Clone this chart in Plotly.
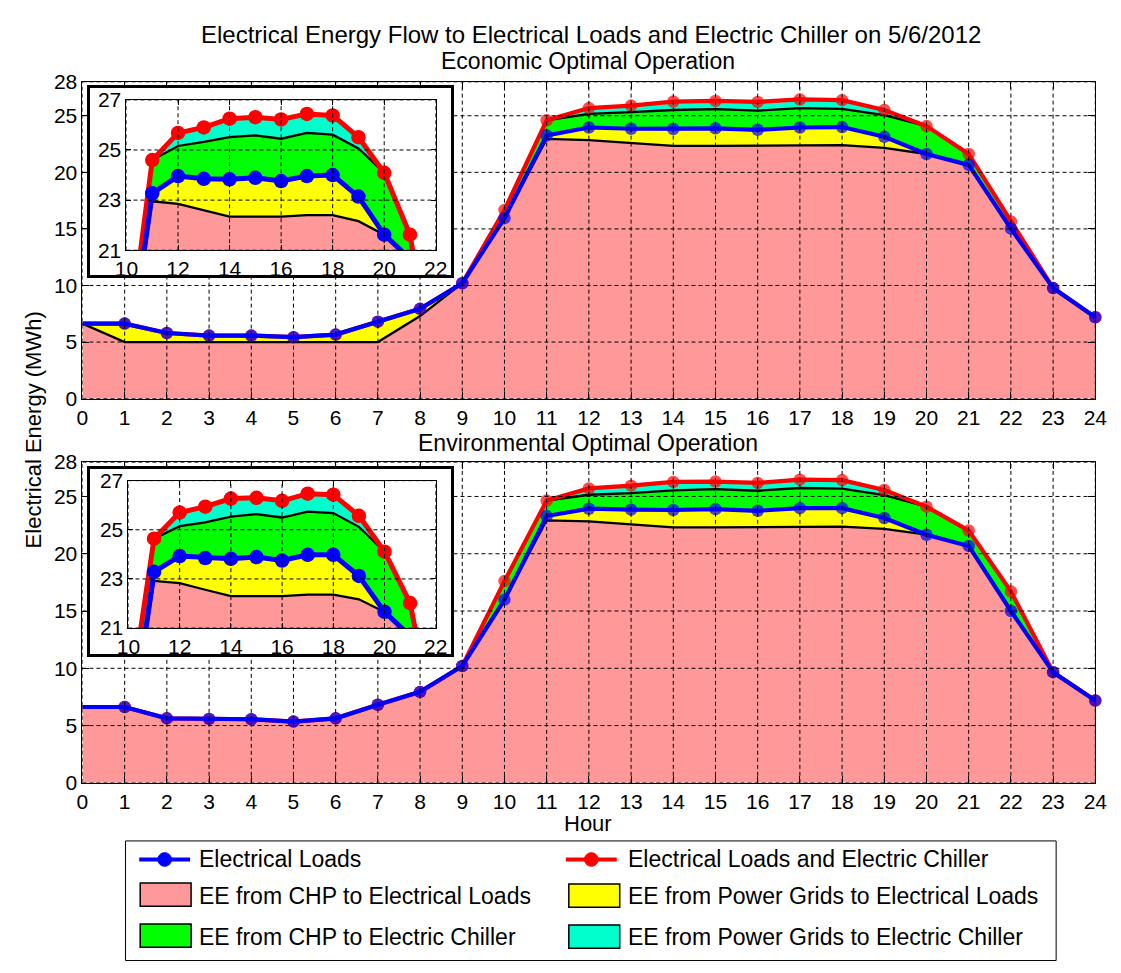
import numpy as np
import plotly.graph_objects as go

# ---------------- data (MWh) ----------------
hours = list(range(25))

eco_chp_to_loads = [6.63, 5.00, 5.00, 5.00, 5.00, 5.00, 5.00, 5.00, 7.30, 10.20, 15.95, 22.95, 22.85,
                    22.60, 22.34, 22.34, 22.34, 22.40, 22.40, 22.16, 21.62, 20.66, 15.03, 9.77, 7.19]
eco_grid_to_loads = [0, 1.63, 0.80, 0.57, 0.57, 0.43, 0.66, 1.80, 0.64, 0, 0, 0.32, 1.11,
                     1.25, 1.49, 1.55, 1.42, 1.56, 1.60, 0.98, 0, 0, 0, 0, 0]
eco_chp_to_chiller = [0, 0, 0, 0, 0, 0, 0, 0, 0, 0, 0.72, 1.33, 1.20,
                      1.47, 1.68, 1.69, 1.69, 1.72, 1.61, 1.92, 2.47, 0.96, 0.63, 0, 0]
eco_grid_to_chiller = [0, 0, 0, 0, 0, 0, 0, 0, 0, 0, 0, 0, 0.52,
                       0.58, 0.74, 0.73, 0.77, 0.76, 0.77, 0.45, 0, 0, 0, 0, 0]

env_chp_to_loads = [6.62, 6.62, 5.63, 5.58, 5.55, 5.35, 5.63, 6.82, 7.94, 10.20, 15.99, 22.92, 22.83,
                    22.56, 22.30, 22.30, 22.30, 22.36, 22.36, 22.17, 21.66, 20.68, 15.00, 9.66, 7.19]
env_grid_to_loads = [0, 0, 0, 0, 0, 0, 0, 0, 0, 0, 0, 0.37, 1.10,
                     1.29, 1.52, 1.59, 1.45, 1.62, 1.62, 0.95, 0, 0, 0, 0, 0]
env_chp_to_chiller = [0, 0, 0, 0, 0, 0, 0, 0, 0, 0, 1.62, 1.35, 1.22,
                      1.45, 1.72, 1.75, 1.75, 1.76, 1.70, 2.00, 2.45, 1.34, 1.71, 0, 0]
env_grid_to_chiller = [0, 0, 0, 0, 0, 0, 0, 0, 0, 0, 0, 0, 0.55,
                       0.64, 0.73, 0.66, 0.68, 0.73, 0.75, 0.45, 0, 0, 0, 0, 0]

main_xticks = list(range(0, 25))
main_yticks = [0, 5, 10, 15, 20, 25, 28]
inset_xticks = [10, 12, 14, 16, 18, 20, 22]
inset_yticks = [21, 23, 25, 27]

area_names = ["EE from CHP to Electrical Loads", "EE from Power Grids to Electrical Loads",
              "EE from CHP to Electric Chiller", "EE from Power Grids to Electric Chiller"]
area_colors = ["#FF9999", "#FFFF00", "#00FF00", "#00FFCC"]
line_names = ["Electrical Loads", "Electrical Loads and Electric Chiller"]

# ---------------- geometry helpers ----------------
W, H = 1121, 973
FONT = "Liberation Sans, Arial, Helvetica, sans-serif"


def px(x):
    return x / W


def py(y):
    return 1 - y / H


fig = go.Figure()


def grid_xy(xt, yt, xr, yr):
    gx, gy = [], []
    for t in xt:
        gx += [t, t, None]
        gy += [yr[0], yr[1], None]
    for t in yt:
        gx += [xr[0], xr[1], None]
        gy += [t, t, None]
    return gx, gy


def add_panel(comps, xa, ya, inset, xt, yt, xr, yr, stack):
    for name, col, vals in zip(area_names, area_colors, comps):
        fig.add_trace(go.Scatter(x=hours, y=vals, stackgroup=stack, mode="lines",
                                 line=dict(color="black", width=2.3), fillcolor=col,
                                 name=name, showlegend=False, hoverinfo="skip",
                                 xaxis=xa, yaxis=ya))
    loads = np.array(comps[0]) + np.array(comps[1])
    total = loads + np.array(comps[2]) + np.array(comps[3])
    msize = [0] + [12.5] * (len(hours) - 1)
    for name, col, vals in [(line_names[1], "#FF0000", total), (line_names[0], "#0000FF", loads)]:
        fig.add_trace(go.Scatter(x=hours, y=vals, mode="lines+markers",
                                 line=dict(color=col, width=4.2 if not inset else 5),
                                 marker=dict(color=col, size=msize if not inset else 14.5,
                                             line=dict(width=0)),
                                 cliponaxis=inset, name=name, showlegend=False,
                                 xaxis=xa, yaxis=ya))
    gx, gy = grid_xy(xt, yt, xr, yr)
    fig.add_trace(go.Scatter(x=gx, y=gy, mode="lines", line=dict(color="black", width=1, dash="4px,3px"),
                             showlegend=False, hoverinfo="skip", xaxis=xa, yaxis=ya))


eco = [eco_chp_to_loads, eco_grid_to_loads, eco_chp_to_chiller, eco_grid_to_chiller]
env = [env_chp_to_loads, env_grid_to_loads, env_chp_to_chiller, env_grid_to_chiller]

add_panel(eco, "x", "y", False, main_xticks, main_yticks, [0, 24], [0, 28], "s1")
add_panel(env, "x2", "y2", False, main_xticks, main_yticks, [0, 24], [0, 28], "s2")
# frames (empty subplots)
fig.add_trace(go.Scatter(x=[], y=[], xaxis="x3", yaxis="y3", showlegend=False, hoverinfo="skip"))
add_panel(eco, "x4", "y4", True, inset_xticks, inset_yticks, [10, 22], [21, 27], "s4")
fig.add_trace(go.Scatter(x=[], y=[], xaxis="x5", yaxis="y5", showlegend=False, hoverinfo="skip"))
add_panel(env, "x6", "y6", True, inset_xticks, inset_yticks, [10, 22], [21, 27], "s6")

tickfont = dict(family=FONT, size=21, color="black")


def ax(domain, rng, tv, anchor, ticklen=7):
    return dict(domain=domain, range=rng, tickvals=tv, ticktext=[str(t) for t in tv], anchor=anchor,
                showgrid=False, zeroline=False, showline=True, mirror="ticks", linecolor="black",
                linewidth=1, ticks="inside", ticklen=ticklen, tickcolor="black", tickfont=tickfont)


def frame(domain, anchor):
    return dict(domain=domain, range=[0, 1], anchor=anchor, showgrid=False, zeroline=False,
                showline=True, mirror=True, linecolor="black", linewidth=3, ticks="",
                showticklabels=False, fixedrange=True)


fig.update_layout(
    width=W, height=H, margin=dict(l=0, r=0, t=0, b=0),
    paper_bgcolor="white", plot_bgcolor="white", showlegend=False,
    font=dict(family=FONT, color="black"),
    xaxis=ax([px(72), px(1107)], [0, 24], main_xticks, "y"),
    yaxis=ax([py(396), py(71.5)], [0, 28], main_yticks, "x"),
    xaxis2=ax([px(72), px(1107)], [0, 24], main_xticks, "y2"),
    yaxis2=ax([py(789.5), py(461)], [0, 28], main_yticks, "x2"),
    xaxis3=frame([px(79.5), px(448.5)], "y3"),
    yaxis3=frame([py(269.5), py(78)], "x3"),
    xaxis4=ax([px(117), px(433)], [10, 22], inset_xticks, "y4", 5),
    yaxis4=ax([py(244), py(90)], [21, 27], inset_yticks, "x4", 5),
    xaxis5=frame([px(79.5), px(448.5)], "y5"),
    yaxis5=frame([py(658), py(468)], "x5"),
    xaxis6=ax([px(119), px(433)], [10, 22], inset_xticks, "y6", 5),
    yaxis6=ax([py(631), py(480)], [21, 27], inset_yticks, "x6", 5),
)


def ann(text, x, y, size, angle=0, xanchor="center"):
    fig.add_annotation(text=text, x=px(x), y=py(y), xref="paper", yref="paper", showarrow=False,
                       xanchor=xanchor, yanchor="middle", textangle=angle,
                       font=dict(family=FONT, size=size, color="black"))


ann("Electrical Energy Flow to Electrical Loads and Electric Chiller on 5/6/2012", 592, 23, 24)
ann("Economic Optimal Operation", 589, 50, 23)
ann("Environmental Optimal Operation", 589, 441, 23)
ann("Hour", 589, 831, 22)
ann("Electrical Energy (MWh)", 22, 428, 22, angle=-90)

# ---------------- manual legend ----------------
shapes = [dict(type="rect", xref="paper", yref="paper", x0=px(116), x1=px(1067), y0=py(971.5), y1=py(849),
               line=dict(color="black", width=1), fillcolor="white", layer="above")]
for (x0, col) in [(130, "#0000FF"), (566, "#FF0000")]:
    shapes.append(dict(type="line", xref="paper", yref="paper", x0=px(x0), x1=px(x0 + 52),
                       y0=py(868), y1=py(868), line=dict(color=col, width=4.2), layer="above"))
    shapes.append(dict(type="circle", xref="paper", yref="paper", x0=px(x0 + 19), x1=px(x0 + 33),
                       y0=py(875), y1=py(861), line=dict(color=col, width=1), fillcolor=col,
                       layer="above"))
boxes = [(131, 892, area_colors[0]), (569, 893, area_colors[1]),
         (131, 934, area_colors[2]), (569, 935, area_colors[3])]
for (x0, y0, col) in boxes:
    shapes.append(dict(type="rect", xref="paper", yref="paper", x0=px(x0), x1=px(x0 + 52),
                       y0=py(y0 + 24), y1=py(y0), line=dict(color="black", width=1.5),
                       fillcolor=col, layer="above"))
fig.update_layout(shapes=shapes)

ann(line_names[0], 189, 868, 23, xanchor="left")
ann(line_names[1], 627, 868, 23, xanchor="left")
ann(area_names[0], 189, 905, 23, xanchor="left")
ann(area_names[1], 627, 905, 23, xanchor="left")
ann(area_names[2], 189, 947, 23, xanchor="left")
ann(area_names[3], 627, 947, 23, xanchor="left")

css_reset = ("var s=document.createElement('style');"
             "s.innerHTML='html,body{margin:0!important;padding:0!important;overflow:hidden;}';"
             "document.head.appendChild(s);")
fig.write_html("out.html", config={"displayModeBar": False}, post_script=css_reset)
